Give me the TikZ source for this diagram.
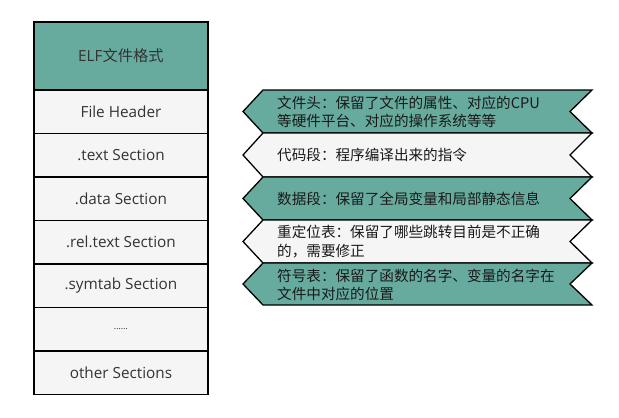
\documentclass[tikz,border=0pt]{standalone}
\usepackage{fontspec}
\setmainfont{Open Sans}
\newfontfamily\cjk{Noto Sans CJK SC}
\definecolor{elfgreen}{HTML}{67AB9F}
\definecolor{elfgray}{HTML}{F5F5F5}
\definecolor{txt}{HTML}{333333}
\begin{document}
\begin{tikzpicture}[x=1pt,y=-1pt,
  secbox/.style={draw=black, line width=1.6pt, fill=elfgray, minimum width=174pt,
    minimum height=43.5pt, inner sep=0pt, text=txt, font=\fontsize{15.3}{17}\selectfont},
  chev/.style={draw=black, line width=1.3pt, line join=miter},
  chevtext/.style={anchor=west, align=left, inner sep=0pt, text=black!90,
    font=\cjk\fontsize{14.6}{18.5}\selectfont}]
\useasboundingbox (0,0) rectangle (619,418);
% left column
\node[secbox, fill=elfgreen, minimum height=68pt] (elf) at (121,56) {ELF{\cjk 文件格式}};
\node[secbox] (fh)  at (121,111.75) {File Header};
\node[secbox] (txs) at (121,155.25) {.text Section};
\node[secbox] (dts) at (121,198.75) {.data Section};
\node[secbox] (rel) at (121,242.25) {.rel.text Section};
\node[secbox] (sym) at (121,285.75) {.symtab Section};
\node[secbox] (dots) at (121,329.25) {\fontsize{9}{10}\selectfont ……};
\node[secbox] (oth) at (121,372.75) {other Sections};
% chevrons
\draw[chev, fill=elfgreen] (263,90) -- (592,90) -- (570,111.5) -- (592,133) -- (263,133) -- (243,111.5) -- cycle;
\draw[chev, fill=elfgray] (263,133) -- (592,133) -- (570,155) -- (592,177) -- (263,177) -- (243,155) -- cycle;
\draw[chev, fill=elfgreen] (263,177) -- (592,177) -- (570,198.5) -- (592,220) -- (263,220) -- (243,198.5) -- cycle;
\draw[chev, fill=elfgray] (263,220) -- (592,220) -- (570,241.5) -- (592,263) -- (263,263) -- (243,241.5) -- cycle;
\draw[chev, fill=elfgreen] (263,263) -- (592,263) -- (570,284) -- (592,305) -- (263,305) -- (243,284) -- cycle;
\node[chevtext] (t1) at (277,112) {文件头：保留了文件的属性、对应的CPU\\等硬件平台、对应的操作系统等等};
\node[chevtext] (t2) at (277,155) {代码段：程序编译出来的指令};
\node[chevtext] (t3) at (277,198.5) {数据段：保留了全局变量和局部静态信息};
\node[chevtext] (t4) at (277,241.5) {重定位表：保留了哪些跳转目前是不正确\\的，需要修正};
\node[chevtext] (t5) at (277,285) {符号表：保留了函数的名字、变量的名字在\\文件中对应的位置};
\end{tikzpicture}
\end{document}
